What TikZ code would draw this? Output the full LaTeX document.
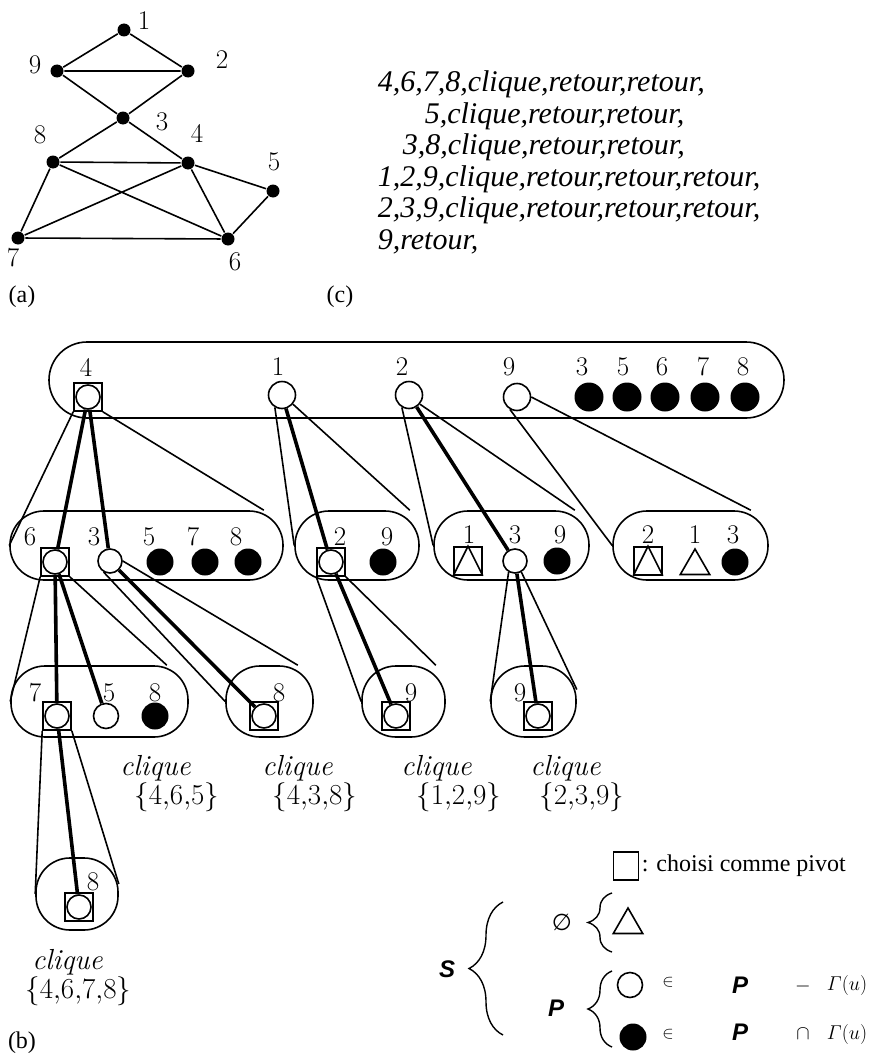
\RequirePackage{fix-cm}
\documentclass[tikz,border=0pt]{standalone}
\usepackage{amsmath}
\usepackage{amssymb}
\usepackage{fontspec}
\usetikzlibrary{shapes.geometric,decorations.pathreplacing}
\newfontfamily\seqfont{Liberation Serif}
\newfontfamily\legfont{Liberation Sans}
\newfontfamily\symfont{DejaVu Sans}

\begin{document}
\begin{tikzpicture}[x=1pt, y=-1pt, line width=1.6pt]
	\tikzstyle{vtx}=[circle, fill=black, inner sep=0pt, minimum size=13pt]
	\tikzstyle{lab}=[inner sep=0pt, font=\fontsize{27}{30}\selectfont]
	\tikzstyle{capt}=[inner sep=0pt, font=\seqfont\fontsize{24}{28}\selectfont]
	\tikzstyle{bag}=[rectangle, draw, rounded corners=34pt, inner sep=0pt]
	\tikzstyle{hollow}=[circle, draw, fill=white, inner sep=0pt, minimum size=25pt]
	\tikzstyle{blk}=[circle, fill=black, inner sep=0pt, minimum size=28pt]
	\tikzstyle{piv}=[rectangle, draw, inner sep=0pt, minimum size=28pt]
	\tikzstyle{tri}=[regular polygon, regular polygon sides=3, draw, inner sep=0pt, minimum size=34pt]
	\tikzstyle{pivline}=[line width=3.6pt]
	\tikzstyle{clq}=[anchor=north west, align=left, inner sep=0pt, font=\fontsize{29}{29}\selectfont]
	\tikzstyle{sym}=[inner sep=0pt, font=\legfont\bfseries\itshape\fontsize{24}{28}\selectfont]
	\tikzstyle{mth}=[inner sep=0pt, font=\fontsize{20}{24}\selectfont]
	\tikzstyle{brc}=[decorate, line width=1.4pt]
	\useasboundingbox (0,0) rectangle (869,1057);

	% (a) the graph
	\draw node[vtx] at (124,30) (v1) {};
	\draw node[vtx] at (57,71) (v9) {};
	\draw node[vtx] at (188,71) (v2) {};
	\draw node[vtx] at (123,118) (v3) {};
	\draw node[vtx] at (53,162) (v8) {};
	\draw node[vtx] at (188,163) (v4) {};
	\draw node[vtx] at (273,191) (v5) {};
	\draw node[vtx] at (18,238) (v7) {};
	\draw node[vtx] at (228,239) (v6) {};
	\draw (v1) -- (v9) -- (v2) -- (v1);
	\draw (v9) -- (v3) -- (v2);
	\draw (v3) -- (v8) -- (v4) -- (v3);
	\draw (v8) -- (v7) -- (v4) -- (v6) -- (v8);
	\draw (v7) -- (v6) -- (v5) -- (v4);
	\draw node[lab] at (144,21) (n1) {1};
	\draw node[lab] at (35,65) (n9) {9};
	\draw node[lab] at (222,60) (n2) {2};
	\draw node[lab] at (162,122) (n3) {3};
	\draw node[lab] at (40,135) (n8) {8};
	\draw node[lab] at (197,133) (n4) {4};
	\draw node[lab] at (274,162) (n5) {5};
	\draw node[lab] at (13,258) (n7) {7};
	\draw node[lab] at (235,262) (n6) {6};
	\draw node[capt] at (22,297) (capa) {(a)};

	% (c) the sequence
	\draw node[anchor=north west, align=left, inner sep=0pt, font=\seqfont\itshape\fontsize{30}{31.5}\selectfont] at (377,70) (seq)
		{4,6,7,8,clique,retour,retour,\\
		\hspace*{47pt}5,clique,retour,retour,\\
		\hspace*{25pt}3,8,clique,retour,retour,\\
		1,2,9,clique,retour,retour,retour,\\
		2,3,9,clique,retour,retour,retour,\\
		9,retour,};
	\draw node[capt] at (340,297) (capc) {(c)};

	% (b) the tree
	\draw node[bag, minimum width=735pt, minimum height=76pt, rounded corners=38pt] at (416.5,380) (bagT) {};
	\draw node[piv] at (88,397) (t4sq) {};
	\draw node[hollow, minimum size=24pt] at (88,397) (t4) {};
	\draw node[lab] at (86,367) (t4l) {4};
	\draw node[hollow, minimum size=27pt] at (282,395) (t1) {};
	\draw node[lab] at (278,367) (t1l) {1};
	\draw node[hollow, minimum size=27pt] at (409,395) (t2) {};
	\draw node[lab] at (402,367) (t2l) {2};
	\draw node[hollow, minimum size=27pt] at (517,397) (t9) {};
	\draw node[lab] at (509,367) (t9l) {9};
	\draw node[blk, minimum size=29pt] at (589,397) (t3) {};
	\draw node[lab] at (582,367) (t3l) {3};
	\draw node[blk, minimum size=29pt] at (627,397) (t5) {};
	\draw node[lab] at (623,367) (t5l) {5};
	\draw node[blk, minimum size=29pt] at (665,397) (t6) {};
	\draw node[lab] at (662,367) (t6l) {6};
	\draw node[blk, minimum size=29pt] at (705,397) (t7) {};
	\draw node[lab] at (703,367) (t7l) {7};
	\draw node[blk, minimum size=29pt] at (745,397) (t8) {};
	\draw node[lab] at (743,367) (t8l) {8};

	\draw node[bag, minimum width=273pt, minimum height=69pt] at (146.5,545.5) (bagA) {};
	\draw node[piv] at (55,562) (a6sq) {};
	\draw node[hollow, minimum size=24pt] at (55,562) (a6) {};
	\draw node[lab] at (30,537) (a6l) {6};
	\draw node[hollow, minimum size=24pt] at (110,561) (a3) {};
	\draw node[lab] at (94,537) (a3l) {3};
	\draw node[blk, minimum size=27pt] at (160,562) (a5) {};
	\draw node[lab] at (149,537) (a5l) {5};
	\draw node[blk, minimum size=27pt] at (205,562) (a7) {};
	\draw node[lab] at (193,537) (a7l) {7};
	\draw node[blk, minimum size=27pt] at (248,562) (a8) {};
	\draw node[lab] at (236,537) (a8l) {8};

	\draw node[bag, minimum width=124pt, minimum height=69pt] at (357,545.5) (bagB) {};
	\draw node[piv] at (331,562) (b2sq) {};
	\draw node[hollow, minimum size=24pt] at (331,562) (b2) {};
	\draw node[lab] at (340,537) (b2l) {2};
	\draw node[blk, minimum size=27pt] at (383,562) (b9) {};
	\draw node[lab] at (387,537) (b9l) {9};

	\draw node[bag, minimum width=155pt, minimum height=69pt] at (511.5,545.5) (bagC) {};
	\draw node[piv] at (468,561) (c1sq) {};
	\draw (c1sq.south west) -- (c1sq.north) -- (c1sq.south east);
	\draw node[lab] at (469,535) (c1l) {1};
	\draw node[hollow, minimum size=24pt] at (515,561) (c3) {};
	\draw node[lab] at (515,535) (c3l) {3};
	\draw node[blk, minimum size=27pt] at (557,561) (c9) {};
	\draw node[lab] at (560,535) (c9l) {9};

	\draw node[bag, minimum width=155pt, minimum height=69pt] at (690.5,545.5) (bagD) {};
	\draw node[piv] at (648,561) (d2sq) {};
	\draw (d2sq.south west) -- (d2sq.north) -- (d2sq.south east);
	\draw node[lab] at (648,535) (d2l) {2};
	\draw node[tri] at (695,566) (d1) {};
	\draw node[lab] at (695,535) (d1l) {1};
	\draw node[blk, minimum size=27pt] at (735,562) (d3) {};
	\draw node[lab] at (733,535) (d3l) {3};

	\draw node[bag, minimum width=177pt, minimum height=71pt] at (99.5,701.5) (bagE) {};
	\draw node[piv] at (57,716) (e7sq) {};
	\draw node[hollow, minimum size=24pt] at (57,716) (e7) {};
	\draw node[lab] at (35,693) (e7l) {7};
	\draw node[hollow] at (106,716) (e5) {};
	\draw node[lab] at (109,693) (e5l) {5};
	\draw node[blk, minimum size=27pt] at (155,716) (e8) {};
	\draw node[lab] at (155,693) (e8l) {8};

	\draw node[bag, minimum width=87pt, minimum height=71pt] at (269.5,701.5) (bagF) {};
	\draw node[piv] at (264,716) (f8sq) {};
	\draw node[hollow, minimum size=24pt] at (264,716) (f8) {};
	\draw node[lab] at (279,693) (f8l) {8};

	\draw node[bag, minimum width=83pt, minimum height=71pt] at (403.5,701.5) (bagG) {};
	\draw node[piv] at (396,716) (g9sq) {};
	\draw node[hollow, minimum size=24pt] at (396,716) (g9) {};
	\draw node[lab] at (411,693) (g9l) {9};

	\draw node[bag, minimum width=85pt, minimum height=71pt] at (533.5,701.5) (bagH) {};
	\draw node[piv] at (538,716) (h9sq) {};
	\draw node[hollow, minimum size=24pt] at (538,716) (h9) {};
	\draw node[lab] at (520,693) (h9l) {9};

	\draw node[bag, minimum width=82pt, minimum height=72pt] at (77,894) (bagI) {};
	\draw node[piv] at (79,907) (i8sq) {};
	\draw node[hollow, minimum size=24pt] at (79,907) (i8) {};
	\draw node[lab] at (93,882) (i8l) {8};

	% fans
	\draw (t4sq.south west) -- (bagA.west);
	\draw (t4sq.south east) -- ([xshift=-20pt]bagA.north east);
	\draw [pivline] (t4) -- (a6);
	\draw [pivline] (t4) -- (a3);
	\draw (t1.240) -- (bagB.west);
	\draw (t1.320) -- ([xshift=-10pt]bagB.north east);
	\draw [pivline] (t1) -- (b2);
	\draw (t2.240) -- (bagC.west);
	\draw (t2.320) -- ([xshift=-15pt]bagC.north east);
	\draw [pivline] (t2) -- (c3);
	\draw (t9.240) -- (bagD.west);
	\draw (t9.east) -- ([xshift=-18pt]bagD.north east);

	\draw (a6sq.south west) -- (bagE.west);
	\draw (a6sq.south east) -- ([xshift=-22pt]bagE.north east);
	\draw [pivline] (a6) -- (e7);
	\draw [pivline] (a6) -- (e5);
	\draw (a3.240) -- (bagF.west);
	\draw (a3.east) -- ([xshift=-16pt]bagF.north east);
	\draw [pivline] (a3) -- (f8);
	\draw (b2sq.south west) -- (bagG.west);
	\draw (b2sq.south east) -- ([xshift=-10pt]bagG.north east);
	\draw [pivline] (b2) -- (g9);
	\draw (c3.240) -- (bagH.west);
	\draw (c3.300) -- ([yshift=12pt]bagH.east);
	\draw [pivline] (c3) -- (h9);
	\draw (e7sq.south west) -- (bagI.west);
	\draw (e7sq.south east) -- ([yshift=10pt]bagI.east);
	\draw [pivline] (e7) -- (i8);

	% cliques
	\draw node[clq] at (119.5,755) (q1) {\textit{clique}\\\hspace*{14pt}$\{4{,}6{,}5\}$};
	\draw node[clq] at (261.5,755) (q2) {\textit{clique}\\\hspace*{10pt}$\{4{,}3{,}8\}$};
	\draw node[clq] at (400.5,755) (q3) {\textit{clique}\\\hspace*{15pt}$\{1{,}2{,}9\}$};
	\draw node[clq] at (529.5,755) (q4) {\textit{clique}\\\hspace*{9pt}$\{2{,}3{,}9\}$};
	\draw node[clq] at (24.5,949) (q5) {\hspace*{7pt}\textit{clique}\\$\{4{,}6{,}7{,}8\}$};
	\draw node[capt] at (22,1043) (capb) {(b)};

	% legend
	\draw node[piv, minimum width=25pt, minimum height=28pt] at (626,866) (lsq) {};
	\draw node[anchor=west, inner sep=0pt, font=\seqfont\fontsize{24}{28}\selectfont] at (641,866) (lsqt) {: choisi comme pivot};
	\draw node[sym] at (447,969) (lS) {S};
	\coordinate (br1a) at (503,1035);
	\coordinate (br1b) at (503,902);
	\draw [brc, decoration={brace, amplitude=34pt}] (br1a) -- (br1b);
	\draw node[inner sep=0pt, font=\symfont\fontsize{23}{26}\selectfont] at (562,922) (lemp) {∅};
	\coordinate (br2a) at (612,952);
	\coordinate (br2b) at (612,893);
	\draw [brc, decoration={brace, amplitude=24pt}] (br2a) -- (br2b);
	\draw node[tri] at (628,925) (ltri) {};
	\draw node[sym] at (556,1008) (lP) {P};
	\coordinate (br3a) at (612,1047);
	\coordinate (br3b) at (612,971);
	\draw [brc, decoration={brace, amplitude=24pt}] (br3a) -- (br3b);
	\draw node[hollow] at (630,985) (lo) {};
	\draw node[mth, font=\fontsize{17}{20}\selectfont] at (668,982) (lin1) {$\in$};
	\draw node[sym] at (740,985) (lP1) {P};
	\draw node[mth] at (803,986) (lmin) {$-$};
	\draw node[mth] at (847,985) (lg1) {$\varGamma(u)$};
	\draw node[blk, minimum size=27pt] at (633,1037) (lf) {};
	\draw node[mth, font=\fontsize{17}{20}\selectfont] at (668,1034) (lin2) {$\in$};
	\draw node[sym] at (740,1032) (lP2) {P};
	\draw node[mth] at (803,1034) (lcap) {$\cap$};
	\draw node[mth] at (847,1034) (lg2) {$\varGamma(u)$};
\end{tikzpicture}
\end{document}
